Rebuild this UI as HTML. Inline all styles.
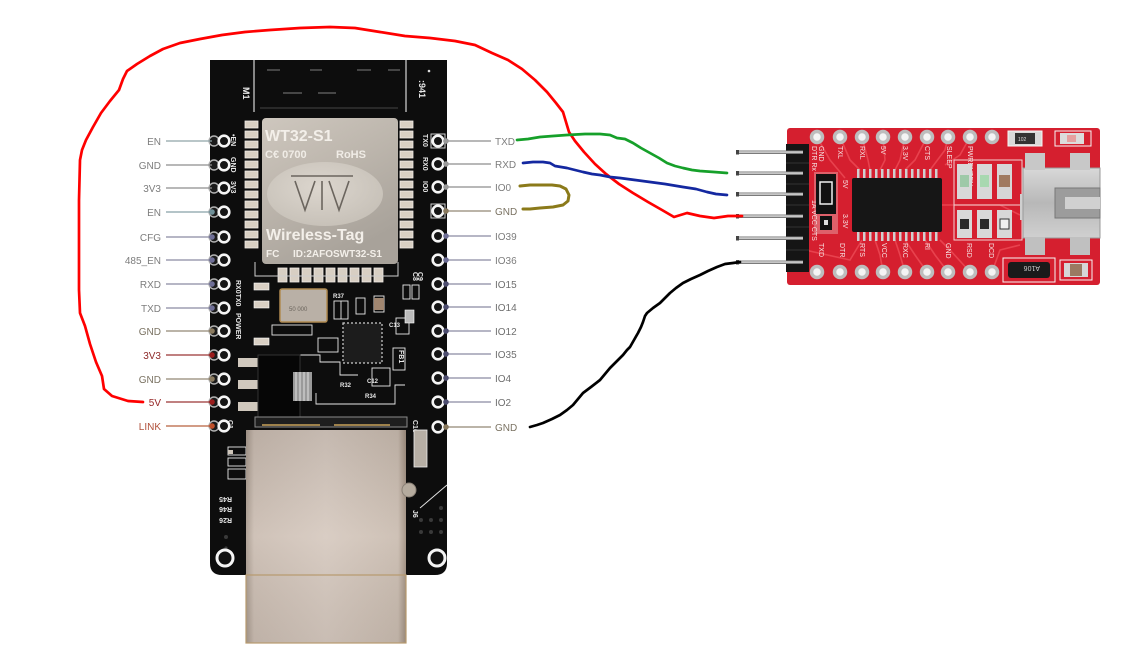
<!DOCTYPE html>
<html><head><meta charset="utf-8"><style>
html,body{margin:0;padding:0;background:#fff;}
svg{display:block;}
text{font-family:"Liberation Sans",sans-serif;}
</style></head><body>
<svg width="1146" height="663" viewBox="0 0 1146 663" xmlns="http://www.w3.org/2000/svg">
<defs>
<linearGradient id="mod" x1="0" y1="0" x2="0.5" y2="1"><stop offset="0" stop-color="#cec7be"/><stop offset="0.5" stop-color="#bcb5ac"/><stop offset="1" stop-color="#a8a29a"/></linearGradient>
<radialGradient id="ell" cx="0.45" cy="0.4" r="0.7"><stop offset="0" stop-color="#dcd6ce"/><stop offset="1" stop-color="#c4beb5"/></radialGradient>
<linearGradient id="jack" x1="0" y1="0" x2="1" y2="0"><stop offset="0" stop-color="#a89a8e"/><stop offset="0.05" stop-color="#cbbdb2"/><stop offset="0.5" stop-color="#d6c9bf"/><stop offset="0.95" stop-color="#cabcb0"/><stop offset="1" stop-color="#a08f80"/></linearGradient>
<linearGradient id="jack2" x1="0" y1="0" x2="0" y2="1"><stop offset="0" stop-color="#000" stop-opacity="0.08"/><stop offset="0.5" stop-color="#fff" stop-opacity="0.08"/><stop offset="1" stop-color="#000" stop-opacity="0.06"/></linearGradient>
<linearGradient id="pin" x1="0" y1="0" x2="0" y2="1"><stop offset="0" stop-color="#666"/><stop offset="0.45" stop-color="#e6e6e6"/><stop offset="1" stop-color="#555"/></linearGradient>
<linearGradient id="usb" x1="0" y1="0" x2="0" y2="1"><stop offset="0" stop-color="#d8d8d8"/><stop offset="0.5" stop-color="#b8b8b8"/><stop offset="1" stop-color="#d0d0d0"/></linearGradient>
</defs>

<!-- ================= ESP BOARD ================= -->
<path d="M210 60 H447 V563 Q447 575 435 575 H222 Q210 575 210 563 Z" fill="#0d0d0d"/>
<line x1="254" y1="60" x2="254" y2="112" stroke="#d8d8d8" stroke-width="1.2"/>
<line x1="406" y1="60" x2="406" y2="112" stroke="#d8d8d8" stroke-width="1.2"/>
<line x1="260" y1="108" x2="398" y2="108" stroke="#333" stroke-width="1.5"/>
<g stroke="#6a6a6a" stroke-width="1.2">
<line x1="267" y1="70" x2="280" y2="70"/><line x1="310" y1="70" x2="322" y2="70"/><line x1="357" y1="70" x2="371" y2="70"/><line x1="388" y1="70" x2="400" y2="70"/>
<line x1="283" y1="93" x2="302" y2="93"/><line x1="318" y1="93" x2="336" y2="93"/>
</g>
<text transform="translate(243,87) rotate(90)" font-size="9" font-weight="bold" fill="#e8e8e8">M1</text>
<text transform="translate(419,80) rotate(90)" font-size="9" font-weight="bold" fill="#e8e8e8">:941</text>
<circle cx="429" cy="71" r="1.3" fill="#ddd"/>

<g fill="#d8cfc3" stroke="#f0ece6" stroke-width="0.8">
<rect x="245" y="121" width="13" height="7"/><rect x="245" y="131" width="13" height="7"/><rect x="245" y="141" width="13" height="7"/><rect x="245" y="151" width="13" height="7"/><rect x="245" y="161" width="13" height="7"/><rect x="245" y="171" width="13" height="7"/><rect x="245" y="181" width="13" height="7"/><rect x="245" y="191" width="13" height="7"/><rect x="245" y="201" width="13" height="7"/><rect x="245" y="211" width="13" height="7"/><rect x="245" y="221" width="13" height="7"/><rect x="245" y="231" width="13" height="7"/><rect x="245" y="241" width="13" height="7"/>
<rect x="400" y="121" width="13" height="7"/><rect x="400" y="131" width="13" height="7"/><rect x="400" y="141" width="13" height="7"/><rect x="400" y="151" width="13" height="7"/><rect x="400" y="161" width="13" height="7"/><rect x="400" y="171" width="13" height="7"/><rect x="400" y="181" width="13" height="7"/><rect x="400" y="191" width="13" height="7"/><rect x="400" y="201" width="13" height="7"/><rect x="400" y="211" width="13" height="7"/><rect x="400" y="221" width="13" height="7"/><rect x="400" y="231" width="13" height="7"/><rect x="400" y="241" width="13" height="7"/>
<rect x="278" y="268" width="9" height="14"/><rect x="290" y="268" width="9" height="14"/><rect x="302" y="268" width="9" height="14"/><rect x="314" y="268" width="9" height="14"/><rect x="326" y="268" width="9" height="14"/><rect x="338" y="268" width="9" height="14"/><rect x="350" y="268" width="9" height="14"/><rect x="362" y="268" width="9" height="14"/><rect x="374" y="268" width="9" height="14"/>
</g>
<path d="M255 262 V276 H398 V262" fill="none" stroke="#cfcfcf" stroke-width="1"/>

<rect x="262" y="118" width="136" height="146" rx="4" fill="url(#mod)"/>
<ellipse cx="325" cy="194" rx="58" ry="32" fill="url(#ell)"/>
<g stroke="#6b655e" stroke-width="1.6" fill="none">
<line x1="291" y1="176" x2="353" y2="176"/>
<polyline points="295,181 305,210 315,181"/>
<line x1="322" y1="181" x2="322" y2="210"/>
<polyline points="329,181 339,210 349,181"/>
</g>
<text x="265" y="141" font-size="16" font-weight="bold" fill="#f3efe9">WT32-S1</text>
<text x="265" y="158" font-size="11" font-weight="bold" fill="#f0ece6">C€ 0700</text>
<text x="336" y="158" font-size="11" font-weight="bold" fill="#f0ece6">RoHS</text>
<text x="266" y="240" font-size="16" font-weight="bold" fill="#f3efe9">Wireless-Tag</text>
<text x="266" y="257" font-size="10" font-weight="bold" fill="#f3efe9">FC</text>
<text x="293" y="257" font-size="10" font-weight="bold" fill="#f3efe9">ID:2AFOSWT32-S1</text>

<g font-size="7" font-weight="bold" fill="#e8e8e8">
<text transform="translate(231,134) rotate(90)">•EN</text>
<text transform="translate(231,157) rotate(90)">GND</text>
<text transform="translate(231,181) rotate(90)">3V3</text>
<text transform="translate(423,134) rotate(90)">TX0</text>
<text transform="translate(423,157) rotate(90)">RX0</text>
<text transform="translate(423,181) rotate(90)">IO0</text>
<text transform="translate(236,280) rotate(90)">RX0TX0</text>
<text transform="translate(236,313) rotate(90)">POWER</text>
<text transform="translate(413,272) rotate(90)">C8</text>
<text transform="translate(418,272) rotate(90)">C9</text>
<text transform="translate(399,350) rotate(90)">FB1</text>
<text transform="translate(413,420) rotate(90)">C10</text>
<text transform="translate(290,395) rotate(90)">U6</text>
<text transform="translate(228,420) rotate(90)">C1</text>
<text transform="translate(232,497) rotate(180)">R45</text>
<text transform="translate(232,507) rotate(180)">R46</text>
<text transform="translate(232,518) rotate(180)">R26</text>
<text transform="translate(413,510) rotate(90)">J6</text>
<text x="333" y="298" font-size="6">R37</text>
<text x="367" y="383" font-size="6">C12</text>
<text x="340" y="387" font-size="6">R32</text>
<text x="365" y="398" font-size="6">R34</text>
<text x="389" y="327" font-size="6">C13</text>
<text x="258" y="427" font-size="6">C23</text>
</g>

<rect x="254" y="283" width="15" height="7" fill="#d9d0c4" stroke="#fff" stroke-width="0.6"/>
<rect x="254" y="301" width="15" height="7" fill="#d9d0c4" stroke="#fff" stroke-width="0.6"/>
<rect x="254" y="338" width="15" height="7" fill="#d9d0c4" stroke="#fff" stroke-width="0.6"/>
<rect x="280" y="289" width="47" height="33" rx="2" fill="#b9b0a6" stroke="#b08a50" stroke-width="1.5"/>
<text x="289" y="311" font-size="6" fill="#6a645c">50 000</text>
<g fill="none" stroke="#e8e8e8" stroke-width="0.9">
<rect x="334" y="301" width="14" height="18"/><line x1="341" y1="301" x2="341" y2="319"/>
<rect x="356" y="298" width="9" height="16"/>
<rect x="374" y="296" width="10" height="16"/>
<rect x="396" y="318" width="13" height="16"/>
<rect x="403" y="285" width="7" height="14"/><rect x="412" y="285" width="7" height="14"/>
<rect x="272" y="325" width="40" height="10"/>
<rect x="318" y="338" width="20" height="14"/>
<polyline points="300,355 320,355 320,362 340,362 340,375 358,375"/>
<rect x="372" y="368" width="18" height="18"/>
<rect x="393" y="348" width="12" height="22"/>
<polyline points="316,393 316,404 395,404 395,385 405,385"/>
<rect x="228" y="447" width="18" height="8"/><rect x="228" y="458" width="18" height="8"/><rect x="228" y="469" width="18" height="10"/>
<line x1="420" y1="508" x2="447" y2="485"/>
</g>
<rect x="374" y="298" width="10" height="12" fill="#a08670"/>
<rect x="343" y="323" width="39" height="40" fill="#1c1c1c" stroke="#cfcfcf" stroke-width="1.2" stroke-dasharray="2,2"/>
<rect x="238" y="358" width="20" height="9" fill="#d0c8bd"/>
<rect x="238" y="380" width="20" height="9" fill="#d0c8bd"/>
<rect x="238" y="402" width="20" height="9" fill="#d0c8bd"/>
<rect x="258" y="355" width="42" height="62" fill="#060606" stroke="#333" stroke-width="1"/>
<rect x="293" y="372" width="19" height="29" fill="#9a9a9a"/>
<g stroke="#d0d0d0" stroke-width="1.3"><line x1="296" y1="372" x2="296" y2="401"/><line x1="300" y1="372" x2="300" y2="401"/><line x1="304" y1="372" x2="304" y2="401"/><line x1="308" y1="372" x2="308" y2="401"/></g>
<rect x="405" y="310" width="9" height="13" fill="#bbb" stroke="#fff" stroke-width="0.6"/>
<rect x="228" y="450" width="5" height="4" fill="#cfc6ba"/>
<rect x="414" y="430" width="13" height="37" fill="#b7afa5" stroke="#eee" stroke-width="0.8"/>
<g fill="#3a3a3a">
<circle cx="421" cy="520" r="2"/><circle cx="431" cy="520" r="2"/><circle cx="441" cy="520" r="2"/>
<circle cx="421" cy="532" r="2"/><circle cx="431" cy="532" r="2"/><circle cx="441" cy="532" r="2"/>
<circle cx="441" cy="508" r="2"/><circle cx="226" cy="537" r="2"/><circle cx="226" cy="548" r="1.6"/>
</g>

<rect x="255" y="417" width="152" height="10" fill="#1e1e1e" stroke="#8a8a8a" stroke-width="1"/>
<line x1="262" y1="425" x2="320" y2="425" stroke="#c8a25a" stroke-width="1.5"/>
<line x1="334" y1="425" x2="390" y2="425" stroke="#c8a25a" stroke-width="1.5"/>
<rect x="246" y="430" width="160" height="213" fill="url(#jack)"/>
<rect x="246" y="430" width="160" height="213" fill="url(#jack2)"/>
<line x1="246" y1="575" x2="406" y2="575" stroke="#b8a898" stroke-width="1"/>
<rect x="246" y="575" width="160" height="68" fill="none" stroke="#b79a6e" stroke-width="1.2"/>
<circle cx="409" cy="490" r="7" fill="#b5ab9e" stroke="#8a8076" stroke-width="1"/>

<circle cx="225" cy="558" r="8" fill="#111" stroke="#f4f4f4" stroke-width="3"/>
<circle cx="437" cy="558" r="8" fill="#111" stroke="#f4f4f4" stroke-width="3"/>

<g fill="#1a1a1a" stroke="#b0b0b0" stroke-width="1.4">
<circle cx="214" cy="141" r="5"/><circle cx="214" cy="165" r="5"/><circle cx="214" cy="188" r="5"/><circle cx="214" cy="212" r="5"/><circle cx="214" cy="237" r="5"/><circle cx="214" cy="260" r="5"/><circle cx="214" cy="284" r="5"/><circle cx="214" cy="308" r="5"/><circle cx="214" cy="331" r="5"/><circle cx="214" cy="355" r="5"/><circle cx="214" cy="379" r="5"/><circle cx="214" cy="402" r="5"/><circle cx="214" cy="426" r="5"/>
</g>
<g fill="#151515" stroke="#f6f6f6" stroke-width="2.6">
<circle cx="224" cy="141" r="5.3"/><circle cx="224" cy="165" r="5.3"/><circle cx="224" cy="188" r="5.3"/><circle cx="224" cy="212" r="5.3"/><circle cx="224" cy="237" r="5.3"/><circle cx="224" cy="260" r="5.3"/><circle cx="224" cy="284" r="5.3"/><circle cx="224" cy="308" r="5.3"/><circle cx="224" cy="331" r="5.3"/><circle cx="224" cy="355" r="5.3"/><circle cx="224" cy="379" r="5.3"/><circle cx="224" cy="402" r="5.3"/><circle cx="224" cy="426" r="5.3"/>
<circle cx="438" cy="141" r="5.3"/><circle cx="438" cy="164" r="5.3"/><circle cx="438" cy="187" r="5.3"/><circle cx="438" cy="211" r="5.3"/><circle cx="438" cy="236" r="5.3"/><circle cx="438" cy="260" r="5.3"/><circle cx="438" cy="284" r="5.3"/><circle cx="438" cy="307" r="5.3"/><circle cx="438" cy="331" r="5.3"/><circle cx="438" cy="354" r="5.3"/><circle cx="438" cy="378" r="5.3"/><circle cx="438" cy="402" r="5.3"/><circle cx="438" cy="427" r="5.3"/>
</g>
<rect x="431" y="134" width="14" height="14" fill="none" stroke="#cfcfcf" stroke-width="1"/>
<rect x="431" y="204" width="14" height="14" fill="none" stroke="#cfcfcf" stroke-width="1"/>

<g stroke-width="1.3">
<line x1="166" y1="141" x2="212" y2="141" stroke="#8fa3a8"/>
<line x1="166" y1="165" x2="212" y2="165" stroke="#8e8e8e"/>
<line x1="166" y1="188" x2="212" y2="188" stroke="#8e8e8e"/>
<line x1="166" y1="212" x2="212" y2="212" stroke="#86a0a6"/>
<line x1="166" y1="237" x2="212" y2="237" stroke="#8a8aa2"/>
<line x1="166" y1="260" x2="212" y2="260" stroke="#8a8aa2"/>
<line x1="166" y1="284" x2="212" y2="284" stroke="#8a8aa2"/>
<line x1="166" y1="308" x2="212" y2="308" stroke="#8a8aa2"/>
<line x1="166" y1="331" x2="212" y2="331" stroke="#928673"/>
<line x1="166" y1="355" x2="212" y2="355" stroke="#9a3434"/>
<line x1="166" y1="379" x2="212" y2="379" stroke="#928673"/>
<line x1="166" y1="402" x2="212" y2="402" stroke="#9a3434"/>
<line x1="166" y1="426" x2="212" y2="426" stroke="#b8603f"/>
</g>
<g>
<circle cx="212" cy="212" r="2.8" fill="#6f9099"/>
<circle cx="212" cy="237" r="2.8" fill="#6e6e96"/>
<circle cx="212" cy="260" r="2.8" fill="#6e6e96"/>
<circle cx="212" cy="284" r="2.8" fill="#6e6e96"/>
<circle cx="212" cy="308" r="2.8" fill="#6e6e96"/>
<circle cx="212" cy="331" r="2.8" fill="#8a7a5e"/>
<circle cx="212" cy="355" r="2.8" fill="#9a1c1c"/>
<circle cx="212" cy="379" r="2.8" fill="#8a7a5e"/>
<circle cx="212" cy="402" r="2.8" fill="#9a1c1c"/>
<circle cx="212" cy="426" r="2.8" fill="#c0502a"/>
</g>
<g font-size="10" text-anchor="end">
<text x="161" y="145" fill="#7d7d7d">EN</text>
<text x="161" y="169" fill="#7d7d7d">GND</text>
<text x="161" y="192" fill="#7d7d7d">3V3</text>
<text x="161" y="216" fill="#7d7d7d">EN</text>
<text x="161" y="241" fill="#7d7d7d">CFG</text>
<text x="161" y="264" fill="#7d7d7d">485_EN</text>
<text x="161" y="288" fill="#7d7d7d">RXD</text>
<text x="161" y="312" fill="#7d7d7d">TXD</text>
<text x="161" y="335" fill="#7a7262">GND</text>
<text x="161" y="359" fill="#8e2a2a">3V3</text>
<text x="161" y="383" fill="#7a7262">GND</text>
<text x="161" y="406" fill="#952525">5V</text>
<text x="161" y="430" fill="#b0503a">LINK</text>
</g>

<g stroke-width="1.3">
<line x1="446" y1="141" x2="491" y2="141" stroke="#8e8e8e"/>
<line x1="446" y1="164" x2="491" y2="164" stroke="#8e8e8e"/>
<line x1="446" y1="187" x2="491" y2="187" stroke="#8e8e8e"/>
<line x1="446" y1="211" x2="491" y2="211" stroke="#928673"/>
<line x1="446" y1="236" x2="491" y2="236" stroke="#8a8aa2"/>
<line x1="446" y1="260" x2="491" y2="260" stroke="#8a8aa2"/>
<line x1="446" y1="284" x2="491" y2="284" stroke="#8a8aa2"/>
<line x1="446" y1="307" x2="491" y2="307" stroke="#8a8aa2"/>
<line x1="446" y1="331" x2="491" y2="331" stroke="#8a8aa2"/>
<line x1="446" y1="354" x2="491" y2="354" stroke="#8a8aa2"/>
<line x1="446" y1="378" x2="491" y2="378" stroke="#8a8aa2"/>
<line x1="446" y1="402" x2="491" y2="402" stroke="#8a8aa2"/>
<line x1="446" y1="427" x2="491" y2="427" stroke="#928673"/>
</g>
<g>
<circle cx="446" cy="141" r="2.8" fill="#9a9a9a"/>
<circle cx="446" cy="164" r="2.8" fill="#9a9a9a"/>
<circle cx="446" cy="187" r="2.8" fill="#9a9a9a"/>
<circle cx="446" cy="211" r="2.8" fill="#8a7a5e"/>
<circle cx="446" cy="236" r="2.8" fill="#6e6e96"/>
<circle cx="446" cy="260" r="2.8" fill="#6e6e96"/>
<circle cx="446" cy="284" r="2.8" fill="#4e4e70"/>
<circle cx="446" cy="307" r="2.8" fill="#4e4e70"/>
<circle cx="446" cy="331" r="2.8" fill="#4e4e70"/>
<circle cx="446" cy="354" r="2.8" fill="#4e4e70"/>
<circle cx="446" cy="378" r="2.8" fill="#4e4e70"/>
<circle cx="446" cy="402" r="2.8" fill="#4e4e70"/>
<circle cx="446" cy="427" r="2.8" fill="#8a7a5e"/>
</g>
<g font-size="10">
<text x="495" y="145" fill="#7d7d7d">TXD</text>
<text x="495" y="168" fill="#7d7d7d">RXD</text>
<text x="495" y="191" fill="#7d7d7d">IO0</text>
<text x="495" y="215" fill="#7a7262">GND</text>
<text x="495" y="240" fill="#7d7d7d">IO39</text>
<text x="495" y="264" fill="#7d7d7d">IO36</text>
<text x="495" y="288" fill="#6f6f6f">IO15</text>
<text x="495" y="311" fill="#6f6f6f">IO14</text>
<text x="495" y="335" fill="#6f6f6f">IO12</text>
<text x="495" y="358" fill="#6f6f6f">IO35</text>
<text x="495" y="382" fill="#6f6f6f">IO4</text>
<text x="495" y="406" fill="#6f6f6f">IO2</text>
<text x="495" y="431" fill="#7a7262">GND</text>
</g>

<!-- ================= FTDI BOARD ================= -->
<rect x="787" y="128" width="313" height="157" rx="3" fill="#d51f2f"/>
<g stroke="#e8424e" stroke-width="1.6" fill="none">
<polyline points="817,137 830,160 845,178"/>
<polyline points="840,137 850,160 860,170"/>
<polyline points="862,137 868,160 870,170"/>
<polyline points="883,137 885,160 880,170"/>
<polyline points="905,137 900,160 895,170"/>
<polyline points="927,137 915,160 905,170"/>
<polyline points="948,137 945,150 930,170"/>
<polyline points="970,137 960,155 945,165"/>
<polyline points="883,272 880,255 875,240"/>
<polyline points="905,272 900,255 895,240"/>
<polyline points="927,272 915,255 905,240"/>
<polyline points="948,272 935,255 925,240"/>
<polyline points="970,272 950,250 940,240"/>
<polyline points="992,272 1000,250 1020,245"/>
<polyline points="940,205 1000,205 1020,215"/>
<polyline points="805,250 850,260 862,240"/>
</g>
<g fill="#f4f4f4" stroke="#bdbdbd" stroke-width="3.5">
<circle cx="817" cy="137" r="5.5"/><circle cx="840" cy="137" r="5.5"/><circle cx="862" cy="137" r="5.5"/><circle cx="883" cy="137" r="5.5"/><circle cx="905" cy="137" r="5.5"/><circle cx="927" cy="137" r="5.5"/><circle cx="948" cy="137" r="5.5"/><circle cx="970" cy="137" r="5.5"/><circle cx="992" cy="137" r="5.5"/>
<circle cx="817" cy="272" r="5.5"/><circle cx="840" cy="272" r="5.5"/><circle cx="862" cy="272" r="5.5"/><circle cx="883" cy="272" r="5.5"/><circle cx="905" cy="272" r="5.5"/><circle cx="927" cy="272" r="5.5"/><circle cx="948" cy="272" r="5.5"/><circle cx="970" cy="272" r="5.5"/><circle cx="992" cy="272" r="5.5"/>
</g>
<g font-size="7" fill="#f6e6e6">
<text transform="translate(819,146) rotate(90)">GND</text>
<text transform="translate(812,146) rotate(90)">DTR Rx</text>
<text transform="translate(838,146) rotate(90)">TXL</text>
<text transform="translate(860,146) rotate(90)">RXL</text>
<text transform="translate(881,146) rotate(90)">5V</text>
<text transform="translate(903,146) rotate(90)">3.3V</text>
<text transform="translate(925,146) rotate(90)">CTS</text>
<text transform="translate(947,146) rotate(90)">SLEEP</text>
<text transform="translate(968,146) rotate(90)">PWRENTEN</text>
<text transform="translate(843,180) rotate(90)">5V</text>
<text transform="translate(843,214) rotate(90)">3.3V</text>
<text transform="translate(819,243) rotate(90)">TXD</text>
<text transform="translate(812,200) rotate(90)">1A VCC CTS</text>
<text transform="translate(840,243) rotate(90)">DTR</text>
<text transform="translate(860,243) rotate(90)">RTS</text>
<text transform="translate(882,243) rotate(90)">VCC</text>
<text transform="translate(903,243) rotate(90)">RXC</text>
<text transform="translate(925,243) rotate(90)">RI</text>
<text transform="translate(946,243) rotate(90)">GND</text>
<text transform="translate(967,243) rotate(90)">RSD</text>
<text transform="translate(989,243) rotate(90)">DCD</text>
</g>
<g fill="#cfcfcf">
<rect x="857" y="169" width="2.5" height="10"/><rect x="863" y="169" width="2.5" height="10"/><rect x="869" y="169" width="2.5" height="10"/><rect x="875" y="169" width="2.5" height="10"/><rect x="881" y="169" width="2.5" height="10"/><rect x="887" y="169" width="2.5" height="10"/><rect x="893" y="169" width="2.5" height="10"/><rect x="899" y="169" width="2.5" height="10"/><rect x="905" y="169" width="2.5" height="10"/><rect x="911" y="169" width="2.5" height="10"/><rect x="917" y="169" width="2.5" height="10"/><rect x="923" y="169" width="2.5" height="10"/><rect x="929" y="169" width="2.5" height="10"/><rect x="935" y="169" width="2.5" height="10"/>
<rect x="857" y="231" width="2.5" height="10"/><rect x="863" y="231" width="2.5" height="10"/><rect x="869" y="231" width="2.5" height="10"/><rect x="875" y="231" width="2.5" height="10"/><rect x="881" y="231" width="2.5" height="10"/><rect x="887" y="231" width="2.5" height="10"/><rect x="893" y="231" width="2.5" height="10"/><rect x="899" y="231" width="2.5" height="10"/><rect x="905" y="231" width="2.5" height="10"/><rect x="911" y="231" width="2.5" height="10"/><rect x="917" y="231" width="2.5" height="10"/><rect x="923" y="231" width="2.5" height="10"/><rect x="929" y="231" width="2.5" height="10"/><rect x="935" y="231" width="2.5" height="10"/>
</g>
<rect x="852" y="178" width="90" height="54" rx="2" fill="#161616"/>
<rect x="814" y="172" width="24" height="62" fill="#f2dada" opacity="0.35"/>
<rect x="816" y="174" width="20" height="40" fill="#111"/>
<rect x="820" y="182" width="12" height="22" fill="none" stroke="#f0f0f0" stroke-width="1.5"/>
<rect x="820" y="216" width="12" height="14" fill="#111"/>
<rect x="824" y="220" width="4" height="5" fill="#ddd"/>
<g fill="none" stroke="#f2d0d0" stroke-width="1">
<rect x="954" y="160" width="68" height="80"/>
<line x1="954" y1="205" x2="1022" y2="205"/>
</g>
<rect x="957" y="164" width="15" height="35" fill="#d8d8d8"/><rect x="960" y="175" width="9" height="12" fill="#9ec9a8"/>
<rect x="977" y="164" width="15" height="35" fill="#d8d8d8"/><rect x="980" y="175" width="9" height="12" fill="#a8d8b0"/>
<rect x="997" y="164" width="15" height="35" fill="#d6d6d6"/><rect x="999" y="175" width="11" height="12" fill="#a07a60"/>
<rect x="957" y="210" width="15" height="28" fill="#d8d8d8"/><rect x="960" y="219" width="9" height="10" fill="#2a2a2a"/>
<rect x="977" y="210" width="15" height="28" fill="#d8d8d8"/><rect x="980" y="219" width="9" height="10" fill="#2a2a2a"/>
<rect x="997" y="210" width="15" height="28" fill="#d8d8d8"/><rect x="1000" y="219" width="9" height="10" fill="#f0f0f0" stroke="#333" stroke-width="1"/>
<rect x="1020" y="194" width="8" height="26" fill="#cfcfcf"/>
<rect x="1023" y="168" width="77" height="70" fill="url(#usb)" stroke="#999" stroke-width="1"/>
<rect x="1055" y="188" width="45" height="30" fill="#9c9c9c" stroke="#777" stroke-width="1"/>
<rect x="1065" y="197" width="35" height="12" fill="#d0d0d0"/>
<rect x="1025" y="153" width="20" height="17" fill="#c8c8c8"/><rect x="1070" y="153" width="20" height="17" fill="#c8c8c8"/>
<rect x="1025" y="237" width="20" height="18" fill="#c0c0c0"/><rect x="1070" y="237" width="20" height="18" fill="#c0c0c0"/>
<rect x="1008" y="131" width="34" height="15" fill="#d9d9d9" stroke="#f6f6f6" stroke-width="1"/><rect x="1015" y="133" width="20" height="11" fill="#333"/>
<text x="1018" y="141" font-size="5" fill="#ddd">102</text>
<rect x="1055" y="131" width="36" height="15" fill="none" stroke="#f6f6f6" stroke-width="1"/><rect x="1060" y="133" width="24" height="11" fill="#dcdcdc"/><rect x="1067" y="135" width="9" height="7" fill="#e6a0a0"/>
<rect x="1003" y="258" width="52" height="24" fill="none" stroke="#f6f6f6" stroke-width="1"/>
<rect x="1008" y="262" width="42" height="16" rx="3" fill="#1a1a1a"/>
<text transform="translate(1040,266) rotate(180)" font-size="7" fill="#ccc">A106</text>
<rect x="1060" y="260" width="32" height="20" fill="none" stroke="#f6f6f6" stroke-width="1"/>
<rect x="1064" y="263" width="24" height="14" fill="#d6d6d6"/><rect x="1070" y="264" width="12" height="12" fill="#9a7a62"/>

<rect x="786" y="144" width="23" height="128" fill="#151515"/>
<g stroke="#333" stroke-width="1"><line x1="786" y1="163" x2="809" y2="163"/><line x1="786" y1="184" x2="809" y2="184"/><line x1="786" y1="205" x2="809" y2="205"/><line x1="786" y1="227" x2="809" y2="227"/><line x1="786" y1="250" x2="809" y2="250"/></g>
<g fill="url(#pin)">
<rect x="737" y="150.5" width="66" height="3.5"/>
<rect x="737" y="171.5" width="66" height="3.5"/>
<rect x="737" y="192.5" width="66" height="3.5"/>
<rect x="737" y="214.5" width="66" height="3.5"/>
<rect x="737" y="236.5" width="66" height="3.5"/>
<rect x="737" y="260.5" width="66" height="3.5"/>
</g>
<g fill="#444"><rect x="736" y="150" width="3" height="4.5"/><rect x="736" y="171" width="3" height="4.5"/><rect x="736" y="192" width="3" height="4.5"/><rect x="736" y="214" width="3" height="4.5"/><rect x="736" y="236" width="3" height="4.5"/><rect x="736" y="260" width="3" height="4.5"/></g>

<!-- ================= WIRES ================= -->
<g fill="none" stroke-width="2.7" stroke-linejoin="round" stroke-linecap="round">
<polyline stroke="#ff0000" points="143,402 128,401 112,396 104,389 102,376 96,362 90,344 85,326 80,313 79,290 79,250 79,200 80,160 82,150 86,140 93,127 101,113 110,101 119,90 123,79 127,71 137,64 150,56 163,49 180,43 200,39 222,35 245,32 270,30 300,28 330,27 355,28 380,32 405,36 430,38 455,41 475,45 492,53 508,60 522,69 535,80 547,92 556,103 563,112 566,122 569,132 575,141 584,152 595,164 606,174 619,184 633,193 648,202 662,210 674,217 687,213 700,216 714,218 728,216 742,216"/>
<polyline stroke="#16a02a" points="517,140 528,139 540,137 553,136 567,135 585,134 600,134 610,135 617,138 625,139 633,143 641,148 650,153 659,158 667,163 675,166 683,168 692,170 700,171 714,172 727,173"/>
<polyline stroke="#1428a0" points="523,163 533,162 543,162 550,163 555,166 567,168 575,170 583,172 592,174 600,175 610,177 620,178 635,180 650,182 665,184 683,187 696,189 707,192 716,194 727,195"/>
<polyline stroke="#8b7a1a" stroke-width="3" points="520,186 530,185 540,185 552,185 560,186 566,189 569,195 568,201 563,205 553,207 540,208 530,209 523,209"/>
<polyline stroke="#000000" points="530,427 537,425 543,423 552,419 560,415 567,410 573,405 578,399 583,393 591,387 600,380 605,374 610,368 617,361 623,355 627,350 630,347 634,340 638,333 641,327 643,322 645,316 647,313 653,308 660,303 665,298 670,293 676,288 683,283 691,279 700,275 708,271 717,267 725,264 733,263 740,262"/>
</g>
</svg>
</body></html>
